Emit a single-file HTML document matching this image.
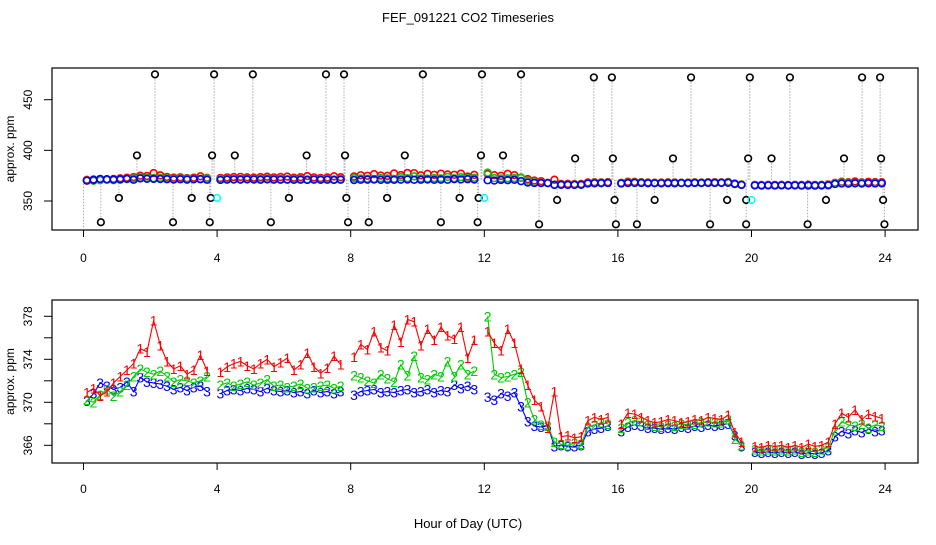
<!DOCTYPE html>
<html><head><meta charset="utf-8"><style>
body{margin:0;background:#fff}
svg text{font-family:"Liberation Sans",sans-serif;fill:#000}
</style></head><body>
<svg id="chart" width="936" height="540" viewBox="0 0 936 540" xmlns="http://www.w3.org/2000/svg">
<rect width="936" height="540" fill="#fff"/>
<text x="468" y="22" font-size="13" text-anchor="middle">FEF_091221  CO2 Timeseries</text>
<text x="468" y="528" font-size="13" text-anchor="middle">Hour of Day (UTC)</text>
<g id="panelTop"></g>
<g id="panelBot"></g>
</svg>
<script>
const s3 = [370.1,370.8,371.8,371.5,371.2, 371.4,371.9,371.0,372.3,371.9, 371.8,371.7,371.5,371.2,371.4, 371.1,371.4,371.5,371.0,null,
 370.8,371.1,371.2,371.1,371.3, 371.2,371.0,371.3,371.1,371.0, 371.1,370.9,371.0,370.8,371.1, 370.9,371.0,370.8,371.0,null,
 370.7,371.0,371.1,371.2,370.9, 371.0,370.9,371.1,371.2,370.9, 371.0,371.2,370.9,371.1,371.0, 371.6,371.3,371.5,371.2,null,
 370.5,370.2,370.8,370.6,370.9, 369.6,368.2,367.8,367.7,367.8, 365.9,366.0,365.9,365.9,366.0, 367.3,367.5,367.6,367.8,null,
 367.3,367.7,367.9,367.8,367.6, 367.6,367.5,367.6,367.5,367.7, 367.6,367.8,367.7,367.9,367.8, 367.9,368.0,366.9,365.9,null,
 365.4,365.3,365.4,365.3,365.4, 365.3,365.4,365.2,365.3,365.2, 365.3,365.5,366.8,367.3,367.1, 367.4,367.2,367.5,367.3,367.4];
const s2 = [370.2,370.0,370.7,371.2,370.6, 371.0,371.6,372.4,373.1,372.8, 372.6,372.9,372.4,371.9,372.1, 372.0,371.8,372.0,372.4,null,
 371.6,371.8,371.5,371.7,371.9, 371.6,371.8,372.1,371.5,371.6, 371.4,371.5,371.7,371.3,371.4, 371.5,371.6,371.3,371.5,null,
 372.5,372.3,372.0,371.8,372.6, 372.2,371.9,373.5,372.5,374.3, 372.3,372.1,372.6,372.4,373.8, 372.4,373.5,372.6,372.9,null,
 378.0,372.6,372.3,372.4,372.6, 372.8,370.0,368.4,367.9,367.8, 366.3,366.1,366.0,366.2,366.1, 367.7,367.9,368.1,368.0,null,
 367.6,368.1,368.3,368.2,367.9, 367.8,367.7,367.9,367.8,368.0, 367.9,368.0,368.1,368.2,368.1, 368.1,368.4,366.6,366.0,null,
 365.6,365.5,365.6,365.5,365.6, 365.5,365.6,365.4,365.5,365.4, 365.6,365.8,367.4,368.2,367.9, 367.8,368.0,367.6,367.9,367.8];
const s1 = [370.9,371.3,370.6,371.0,371.8, 372.4,373.0,373.6,375.0,374.7, 377.6,375.3,373.8,373.1,373.4, 372.6,373.0,374.4,372.9,null,
 372.8,373.3,373.6,373.8,373.4, 373.1,373.6,374.0,373.3,373.7, 374.1,373.0,373.5,374.6,373.3, 372.7,373.2,374.3,373.5,null,
 374.2,375.4,374.9,376.6,375.1, 374.8,377.2,375.6,377.7,377.5, 375.3,376.8,375.8,377.0,376.2, 375.9,377.0,374.1,375.8,null,
 376.6,375.5,374.8,376.8,375.5, 373.1,371.6,370.2,369.6,367.6, 371.0,366.8,366.9,366.7,366.8, 368.3,368.6,368.4,368.6,null,
 368.0,369.0,368.9,368.6,368.3, 368.1,368.2,368.4,368.3,368.1, 368.2,368.4,368.3,368.6,368.5, 368.4,368.8,367.2,366.3,null,
 365.9,365.8,366.0,365.9,366.0, 365.8,366.0,365.8,366.1,365.9, 366.0,366.3,368.0,369.0,368.6, 369.3,368.4,368.9,368.7,368.5];
const spikeHours = [2.14,3.91,5.07,7.26,7.80,10.16,11.93,13.10,15.28,15.82,18.19,19.95,21.15,23.31,23.85,
 1.6,3.85,4.53,6.68,7.83,9.62,11.9,12.56,14.72,15.85,17.65,19.9,20.6,22.77,23.88,
 1.06,3.24,3.81,6.15,7.87,9.09,11.26,11.83,14.18,15.9,17.1,19.27,19.84,22.23,23.94,
 0.52,2.68,3.78,5.61,7.92,8.54,10.7,11.8,13.64,15.94,16.57,18.76,19.84,21.68,23.98];
const spikeValues = [475,475,475,475,475,475,475,475,472,472,472,472,472,472,472,
 395,395,395,395,395,395,395,395,392,392,392,392,392,392,392,
 353,353,353,353,353,353,353,353,351,351,351,351,351,351,351,
 329,329,329,329,329,329,329,329,327,327,327,327,327,327,327];
const cyanHours = [4.0,12.0,20.0];
const cyanValues = [353,353,351];
const xTicks = [0,4,8,12,16,20,24];
const topYTicks = [350,400,450];
const botYTicks = [366,368,370,372,374,376,378];
const botYLabels = [366,370,374,378];

const NS="http://www.w3.org/2000/svg";
function mk(parent,tag,attrs){const e=document.createElementNS(NS,tag);for(const k in attrs)e.setAttribute(k,attrs[k]);parent.appendChild(e);return e;}
const xs = h => 83.5 + h*33.4;
const tHour = i => 0.1 + i*0.2;
const yTop = v => 201 - (v-350)*1.013;
const yBot = v => 445.3 - (v-366)*10.75;
const gTop=document.getElementById('panelTop'), gBot=document.getElementById('panelBot');

function frame(g,y0,y1,yf,yt,ylabels,tickLabY){
  const b=mk(g,'rect',{x:52,y:y0,width:866,height:y1-y0,fill:'none',stroke:'#000','stroke-width':1.2});
  
  
  xTicks.forEach(h=>{
    const t=mk(g,'line',{x1:xs(h),x2:xs(h),y1:y1,y2:y1+7,stroke:'#000'});
    
    
    const l=mk(g,'text',{x:xs(h),y:tickLabY,'font-size':12,'text-anchor':'middle'});l.textContent=h;
    
    
  });
  yt.forEach(v=>{
    const t=mk(g,'line',{x1:44,x2:52,y1:yf(v),y2:yf(v),stroke:'#000'});
    
    
  });
  ylabels.forEach(v=>{
    const l=mk(g,'text',{x:0,y:0,'font-size':12,'text-anchor':'middle',transform:`translate(32,${yf(v)}) rotate(-90)`});l.textContent=v;
    
    
  });
  const yl=mk(g,'text',{x:0,y:0,'font-size':12,'text-anchor':'middle',transform:`translate(14,${(y0+y1)/2}) rotate(-90)`});yl.textContent='approx. ppm';
  
  
}
frame(gTop,68,230,yTop,topYTicks,topYTicks,262);
frame(gBot,300,463,yBot,botYTicks,botYLabels,493);

spikeHours.forEach((h,i)=>{
  const ln=mk(gTop,'line',{x1:xs(h),x2:xs(h),y1:yTop(371),y2:yTop(spikeValues[i]),stroke:'#aaa','stroke-dasharray':'1.5,1.5'});
  
  
});
const baseLine=mk(gTop,'line',{x1:xs(0),x2:xs(0),y1:yTop(370),y2:229,stroke:'#aaa','stroke-dasharray':'1.5,1.5'});


[[s1,'#f00','series-1'],[s2,'#00cd00','series-2'],[s3,'#00f','series-3']].forEach(([s,c,n])=>{
  s.forEach((v,i)=>{ if(v==null)return;
    const p=mk(gTop,'circle',{cx:xs(tHour(i)),cy:yTop(v),r:3.4,fill:'none',stroke:c,'stroke-width':1.6});
    
    
  });
});
spikeHours.forEach((h,i)=>{
  const p=mk(gTop,'circle',{cx:xs(h),cy:yTop(spikeValues[i]),r:3.3,fill:'#fff',stroke:'#000','stroke-width':1.6});
  
  
});
cyanHours.forEach((h,i)=>{
  const p=mk(gTop,'circle',{cx:xs(h),cy:yTop(cyanValues[i]),r:3.3,fill:'none',stroke:'#0ff','stroke-width':1.5});
  
  
});

[[s3,'#00f','3','series-3'],[s2,'#00cd00','2','series-2'],[s1,'#f00','1','series-1']].forEach(([s,c,ch,n])=>{
  let d='',pen=false;
  s.forEach((v,i)=>{ if(v==null){pen=false;return;} d+=(pen?'L':'M')+xs(tHour(i)).toFixed(1)+','+yBot(v).toFixed(1); pen=true;});
  const pl=mk(gBot,'path',{d:d,fill:'none',stroke:c,'stroke-width':1.1});
  
  
  s.forEach((v,i)=>{ if(v==null)return;
    const t=mk(gBot,'text',{x:xs(tHour(i)),y:yBot(v)+5,'font-size':14,'text-anchor':'middle',style:'fill:'+c});
    t.textContent=ch;
    
    
  });
});
</script>
</body></html>
